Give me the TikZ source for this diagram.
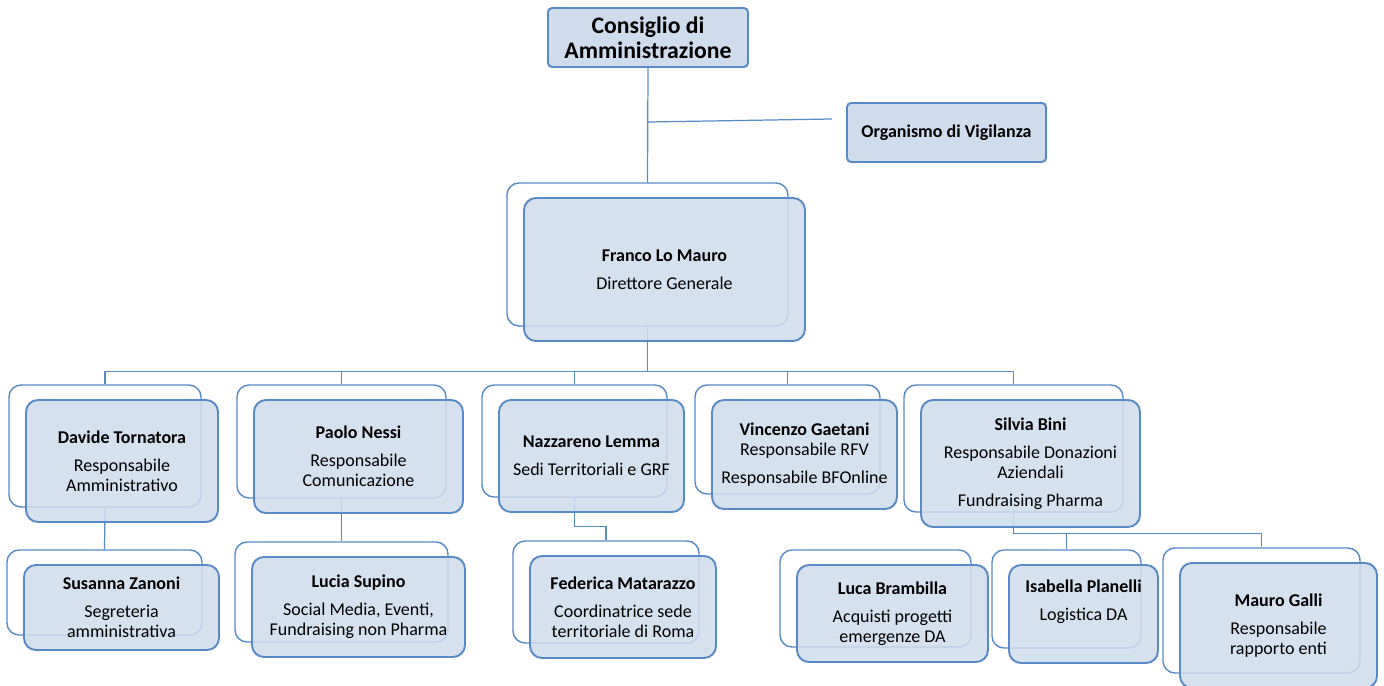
\documentclass[tikz,border=0pt]{standalone}
\usepackage{fontspec}
\setmainfont{Carlito}
\usetikzlibrary{backgrounds}
\definecolor{orgline}{RGB}{88,138,199}
\definecolor{orgfill}{RGB}{207,220,237}
\def\px{0.02cm}
\def\orgbox(#1)(#2,#3)(#4,#5)#6{%
	\begin{pgfonlayer}{background}
		\node[backframe, minimum width=#4*\px, minimum height=#5*\px] (#1b) at (#2-17,#3-15) {};
	\end{pgfonlayer}
	\node[frontbox, minimum width=#4*\px, minimum height=#5*\px] (#1) at (#2,#3) {#6};
}
\tikzset{
	backframe/.style={draw=orgline, line width=0.8pt, fill=white, rounded corners=0.24cm},
	frontbox/.style={draw=orgline, line width=1.1pt, fill=orgfill, fill opacity=0.85, text opacity=1,
		rounded corners=0.24cm, align=center, inner sep=1pt, font=\fontsize{10.25}{11.4}\selectfont},
	topbox/.style={frontbox, rounded corners=0.08cm, fill opacity=1},
	link/.style={draw=orgline, line width=0.7pt},
}

\begin{document}
\begin{tikzpicture}[x=0.02cm, y=-0.02cm]
			%%%%% START %%%%%
			\useasboundingbox (0,0) rectangle (1384,686);
			
			\node[topbox, minimum width=200*\px, minimum height=59*\px, font=\bfseries\fontsize{13.5}{14.2}\selectfont] (cda) at (648,37.5) {Consiglio di\\Amministrazione};
			\node[topbox, minimum width=199*\px, minimum height=59*\px, font=\bfseries\fontsize{10.25}{11.4}\selectfont] (odv) at (946.5,132.5) {Organismo di Vigilanza};
			
			\orgbox(dg)(664.5,269.5)(281,143){\textbf{Franco Lo Mauro}\\[0.16cm]Direttore Generale}
			
			\orgbox(dt)(122,461)(192,122){\textbf{Davide Tornatora}\\[0.16cm]Responsabile\\Amministrativo}
			\orgbox(pn)(358.5,456.5)(209,113){\textbf{Paolo Nessi}\\[0.16cm]Responsabile\\Comunicazione}
			\orgbox(nl)(591.5,456)(185,112){\textbf{Nazzareno Lemma}\\[0.16cm]Sedi Territoriali e GRF}
			\orgbox(vg)(804.5,454.5)(185,109){\textbf{Vincenzo Gaetani}\\Responsabile RFV\\[0.16cm]Responsabile BFOnline}
			\orgbox(sb)(1030.5,463.5)(219,127){\textbf{Silvia Bini}\\[0.16cm]Responsabile Donazioni\\Aziendali\\[0.16cm]Fundraising Pharma}
			
			\orgbox(sz)(121.5,607.5)(195,85){\textbf{Susanna Zanoni}\\[0.16cm]Segreteria\\amministrativa}
			\orgbox(ls)(358.5,607)(213,100){\textbf{Lucia Supino}\\[0.16cm]Social Media, Eventi,\\Fundraising non Pharma}
			\orgbox(fm)(623,607)(186,102){\textbf{Federica Matarazzo}\\[0.16cm]Coordinatrice sede\\territoriale di Roma}
			\orgbox(lb)(892.5,613.5)(191,97){\textbf{Luca Brambilla}\\[0.16cm]Acquisti progetti\\emergenze DA}
			\orgbox(ip)(1083.5,614)(149,98){\textbf{Isabella Planelli}\\[0.16cm]Logistica DA\\[0.16cm]\mbox{}}
			\orgbox(mg)(1278.5,625.5)(197,125){\textbf{Mauro Galli}\\[0.16cm]Responsabile\\rapporto enti}
			
			\coordinate (vigtap) at (648,122);
			\coordinate (vigend) at (832,119);
			
			\begin{pgfonlayer}{background}
				\draw[link] (cda.south) -- (dgb.north);
				\draw[link] (vigtap) -- (vigend);
				\foreach \n in {dtb,pnb,nlb,vgb,sbb}
					\draw[link] (dgb.south) -- ++(0,45) -| (\n.north);
				\draw[link] (dtb.south) -- (szb.north);
				\draw[link] (pnb.south) -- (lsb.north);
				\draw[link] (nlb.south) -- ++(0,29) -| (fmb.north);
				\draw[link] (sbb.south) -- ++(0,21) -| (ipb.north);
				\draw[link] (sbb.south) -- ++(0,21) -| (mgb.north);
			\end{pgfonlayer}
			
			%%%%% END %%%%%
\end{tikzpicture}
\end{document}
